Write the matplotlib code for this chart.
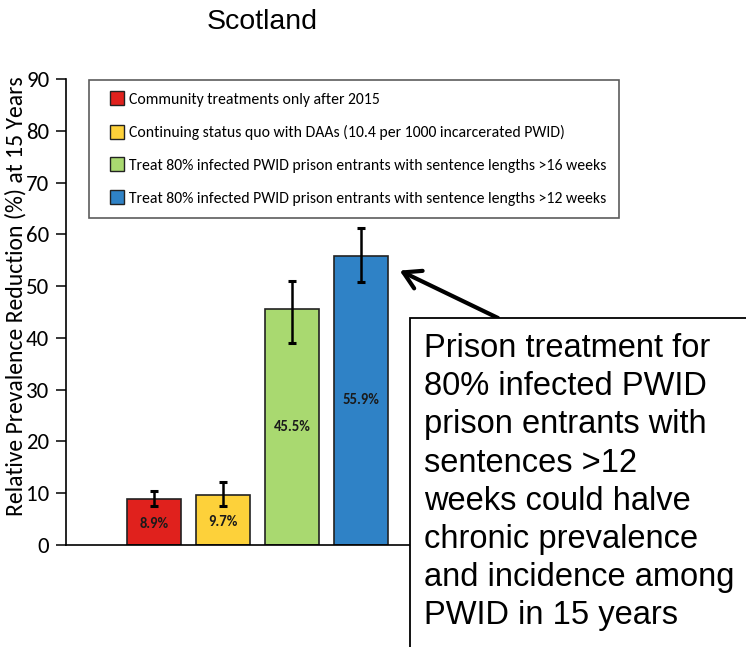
import matplotlib
matplotlib.use("Agg")
import matplotlib.pyplot as plt
from matplotlib.patches import Rectangle
from matplotlib.lines import Line2D
import numpy as np

# ---- data ----
scenarios = [
    "Community treatments only after 2015",
    "Continuing status quo with DAAs (10.4 per 1000 incarcerated PWID)",
    "Treat 80% infected PWID prison entrants with sentence lengths >16 weeks",
    "Treat 80% infected PWID prison entrants with sentence lengths >12 weeks",
]
values = [8.9, 9.7, 45.5, 55.9]
err_low = [7.5, 7.5, 39.0, 50.8]
err_high = [10.4, 12.2, 51.0, 61.2]
bar_labels = ["8.9%", "9.7%", "45.5%", "55.9%"]
colors = ["#E0211D", "#FDD13A", "#A9D970", "#2F82C6"]
yticks = [0, 10, 20, 30, 40, 50, 60, 70, 80, 90]
title = "Scotland"
ylabel = "Relative Prevalence Reduction (%) at 15 Years"
callout = ("Prison treatment for\n80% infected PWID\nprison entrants with\nsentences >12\n"
           "weeks could halve\nchronic prevalence\nand incidence among\nPWID in 15 years")

CAL = ["Carlito", "Lato", "DejaVu Sans"]
W, H = 746, 647
fig = plt.figure(figsize=(W / 100, H / 100), dpi=100)
ax = fig.add_axes([66 / W, 102 / H, 344 / W, 466 / H])

x = np.arange(len(values))
vals = np.array(values)
lo = vals - np.array(err_low)
hi = np.array(err_high) - vals
bars = ax.bar(x, vals, width=0.78, color=colors, edgecolor="#222222", linewidth=1.2, zorder=2)
ax.errorbar(x, vals, yerr=[lo, hi], fmt="none", ecolor="black", elinewidth=1.8,
            capsize=3, capthick=2.2, zorder=3)

for xi, v, lab in zip(x, vals, bar_labels):
    ax.text(xi, v / 2 if v > 20 else v * 0.45, lab, ha="center", va="center",
            fontsize=10.5, fontweight="bold", family=CAL, color="#1a1a1a", zorder=4)

ax.set_xlim(-1.275, 3.71)
ax.set_ylim(0, 90)
ax.set_yticks(yticks)
ax.tick_params(axis="y", labelsize=16.5, length=7, width=1.1, direction="out", pad=5)
ax.tick_params(axis="x", length=0, labelbottom=False)
for lab in ax.get_yticklabels():
    lab.set_family(CAL)
for s in ["top", "right"]:
    ax.spines[s].set_visible(False)
ax.spines["left"].set_linewidth(1.2)
ax.spines["bottom"].set_linewidth(1.2)

# y label
fig.text(16 / W, 1 - 296 / H, ylabel, rotation=90, ha="center", va="center",
         fontsize=17, family=CAL)

# title
fig.text(262 / W, 1 - 22 / H, title, ha="center", va="center", fontsize=20.5,
         family=["Liberation Sans", "DejaVu Sans"])

# legend
handles = [Line2D([], [], ls="none", marker="s", markersize=9.5, markerfacecolor=c,
                  markeredgecolor="#222222", markeredgewidth=1) for c in colors]
leg = ax.legend(handles, scenarios, loc="upper left", bbox_to_anchor=(89 / W, 1 - 80 / H),
                bbox_transform=fig.transFigure, frameon=True, fancybox=False,
                edgecolor="#333333", handlelength=2.0, handletextpad=-0.25,
                labelspacing=1.19, borderpad=0.8, borderaxespad=0,
                prop={"family": CAL, "size": 11.3})
leg.get_frame().set_linewidth(1.2)

# callout box
box = Rectangle((410 / W, -0.05), 1.0, (H - 318) / H + 0.05, transform=fig.transFigure,
                facecolor="white", edgecolor="black", linewidth=1.3, zorder=5, clip_on=False)
fig.add_artist(box)
fig.text(424 / W, 1 - 333 / H, callout, ha="left", va="top", fontsize=23.5,
         linespacing=1.30, family=["Liberation Sans", "DejaVu Sans"], zorder=6)

# arrow
ax.annotate("", xy=(3.56, 53.0), xycoords="data",
            xytext=(498 / W, 1 - 318 / H), textcoords="figure fraction",
            arrowprops=dict(arrowstyle="->,head_length=0.6,head_width=0.35", color="black",
                            lw=3, mutation_scale=20, shrinkA=0, shrinkB=0),
            zorder=4, annotation_clip=False)

fig.savefig("out.png", dpi=100)
